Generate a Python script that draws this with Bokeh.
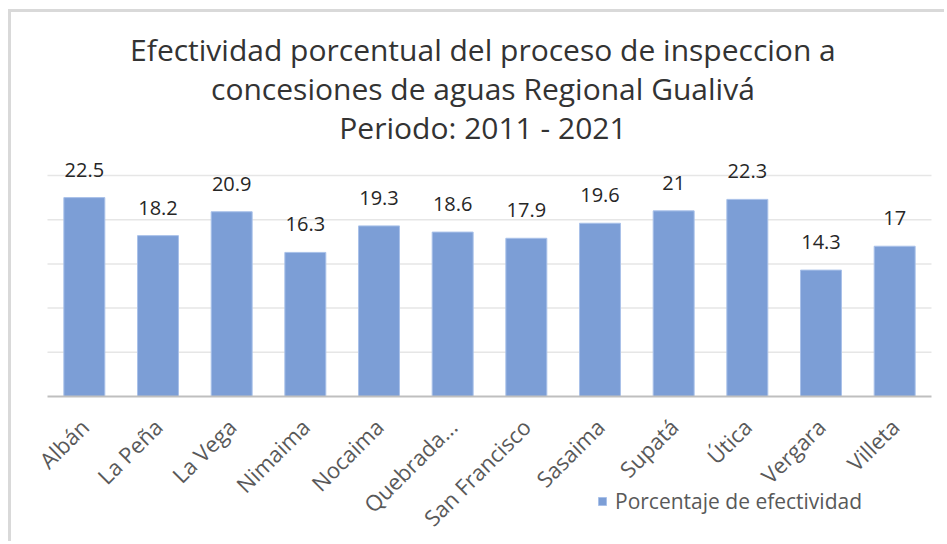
from math import pi
from bokeh.plotting import figure
from bokeh.models import (ColumnDataSource, Range1d, FactorRange, Label,
                          Legend, LegendItem)
from bokeh.core.properties import value
from bokeh.embed import file_html
from bokeh.resources import INLINE

municipios = ["Albán", "La Peña", "La Vega", "Nimaima", "Nocaima", "Quebrada...",
              "San Francisco", "Sasaima", "Supatá", "Útica", "Vergara", "Villeta"]
efectividad = [22.5, 18.2, 20.9, 16.3, 19.3, 18.6, 17.9, 19.6, 21, 22.3, 14.3, 17]
etiquetas = ["22.5", "18.2", "20.9", "16.3", "19.3", "18.6", "17.9", "19.6", "21",
             "22.3", "14.3", "17"]
titulo = ["Efectividad porcentual del proceso de inspeccion a",
          "concesiones de aguas Regional Gualivá",
          "Periodo: 2011 - 2021"]
serie = "Porcentaje de efectividad"
grid_ticks = [5, 10, 15, 20, 25]
y_min, y_max = -16.74, 43.44

FONT = value("Open Sans")

src = ColumnDataSource(dict(x=municipios, y=efectividad, label=etiquetas))
n_cat = len(municipios)
grid_src = ColumnDataSource(dict(y=grid_ticks, x0=[0] * len(grid_ticks),
                                 x1=[n_cat] * len(grid_ticks)))

p = figure(width=936, height=532,
           x_range=FactorRange(factors=municipios, range_padding=0.02715,
                               range_padding_units="percent"),
           y_range=Range1d(y_min, y_max),
           output_backend="svg", toolbar_location=None, y_axis_location=None,
           min_border_left=24, min_border_right=4, min_border_top=0,
           min_border_bottom=0)
p.styles = {"border-left": "3px solid #D9D9D9", "border-top": "3px solid #D9D9D9",
            "margin-left": "8px", "margin-top": "9px"}
p.outline_line_color = None
p.background_fill_color = "white"
p.border_fill_color = "white"
p.xgrid.visible = False
p.ygrid.visible = False

# horizontal gridlines spanning only the category area
p.segment(x0="x0", x1="x1", y0="y", y1="y", source=grid_src,
          line_color="#E6E6E6", line_width=1.5)

bars = p.vbar(x="x", top="y", bottom=0, width=0.556, source=src,
              fill_color="#7C9ED6", line_color="#A9C1E9", line_width=1)

p.text(x="x", y="y", text="label", source=src, text_align="center",
       text_baseline="alphabetic", y_offset=-28, text_font=FONT,
       text_font_size="20px", text_color="#262626")

ax = p.xaxis[0]
ax.fixed_location = 0
ax.bounds = (0, n_cat)
ax.axis_line_color = "#BFBFBF"
ax.axis_line_width = 2
ax.major_tick_line_color = None
ax.minor_tick_line_color = None
ax.major_label_orientation = pi / 4
ax.major_label_text_font = "Open Sans"
ax.major_label_text_font_size = "22px"
ax.major_label_text_color = "#595959"
ax.major_label_standoff = 20

title_y = [39.25, 34.84, 30.43]
for line, ty in zip(titulo, title_y):
    p.add_layout(Label(x=5.911, y=ty, text=line, text_align="center",
                       text_baseline="alphabetic", text_font="Open Sans",
                       text_font_size="30px", text_color="#333333"))

legend = Legend(items=[LegendItem(label=serie, renderers=[bars])],
                location=(562, 29), orientation="horizontal", padding=0,
                margin=0, spacing=0, glyph_width=10, glyph_height=10,
                label_standoff=8, border_line_color=None,
                background_fill_alpha=0, label_text_font="Open Sans",
                label_text_font_size="21px", label_text_color="#595959")
p.add_layout(legend, "center")

open("out.html", "w").write(file_html(p, INLINE))
